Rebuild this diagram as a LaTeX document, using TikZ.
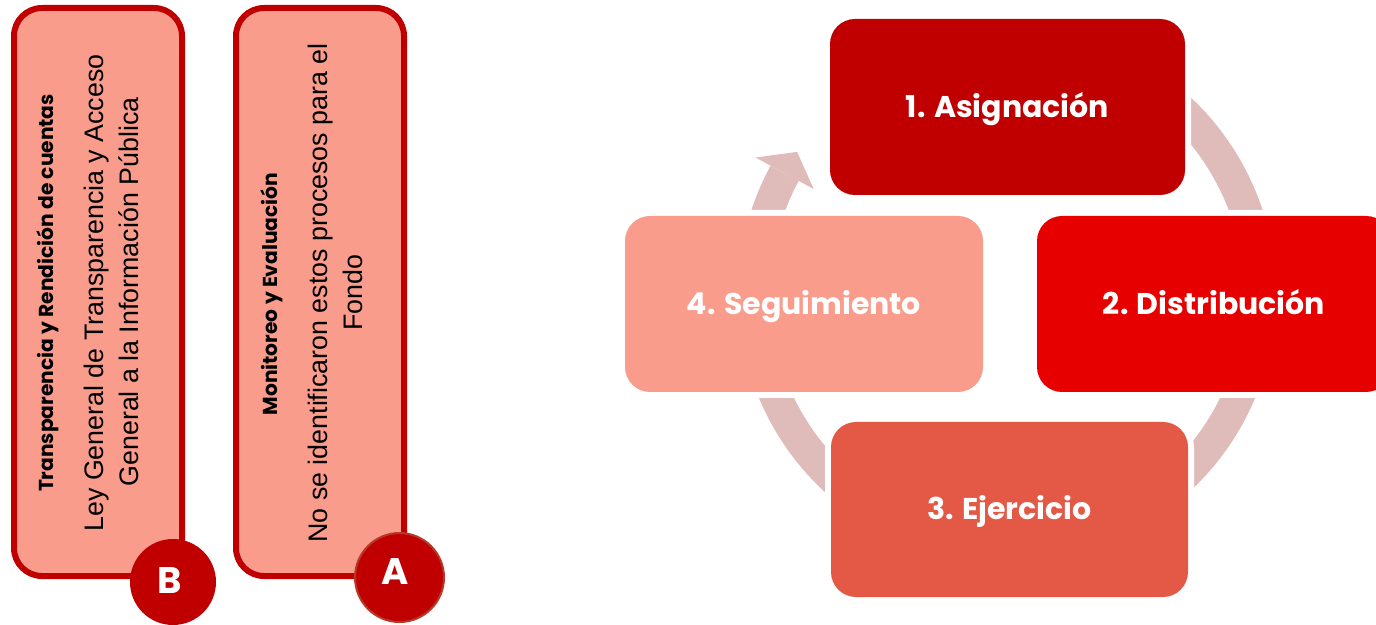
\documentclass[tikz,border=0pt]{standalone}
\usepackage{fontspec}
\setmainfont{Liberation Sans}
\newfontfamily\popfont{Poppins}
\definecolor{dred}{HTML}{C00000}
\definecolor{bred}{HTML}{E60000}
\definecolor{mred}{HTML}{E35946}
\definecolor{pinkf}{HTML}{F99C8C}
\definecolor{ringc}{HTML}{DFBBB9}
\definecolor{aedge}{HTML}{B8392A}
\begin{document}
\begin{tikzpicture}[x=1pt,y=1pt,
  cyc/.style={rectangle, rounded corners=25pt, inner sep=0pt, draw=none, text=white,
    font=\popfont\bfseries\fontsize{30}{35}\selectfont, text height=21pt, text depth=0pt,
    preaction={draw=white, line width=12pt}},
  panel/.style={rectangle, rounded corners=28pt, draw=dred, line width=6pt, fill=pinkf,
    inner sep=0pt, minimum width=168pt, minimum height=568pt},
  badge/.style={circle, fill=dred, inner sep=0pt},
  letter/.style={inner sep=0pt, text=white, font=\popfont\bfseries\fontsize{37}{40}\selectfont},
  head/.style={rotate=90, anchor=base, inner sep=0pt, font=\popfont\bfseries\fontsize{20.2}{24}\selectfont},
  body/.style={rotate=90, anchor=base, inner sep=0pt, font=\fontsize{26.8}{32}\selectfont},
  ring/.style={draw=ringc, line width=32pt}]
\useasboundingbox (0,0) rectangle (1376,624);
\clip (0,0) rectangle (1376,624);

% ---- left panels ----
\node[panel] (pb) at (98,332) {};
\node[panel] (pa) at (320,332) {};
\node[head] (hb) at (53,331) {Transparencia y Rendición de cuentas};
\node[body] (b1) at (103,331) {Ley General de Transparencia y Acceso};
\node[body] (b2) at (138,332) {General a la Información Pública};
\node[head] (ha) at (277,330) {Monitoreo y Evaluación};
\node[body] (a1) at (327,331) {No se identificaron estos procesos para el};
\node[body] (a2) at (362,331) {Fondo};
\node[badge, minimum size=86pt] (cb) at (173,42) {};
\node[badge, draw=aedge, line width=2pt, minimum size=89pt] (ca) at (399.5,46.5) {};
\node[letter] (lb) at (170,43) {B};
\node[letter] (la) at (395,52) {A};

% ---- cycle ----
\coordinate (c) at (1007,330);
\draw[ring] ([shift={(120:253)}]c) arc[start angle=120, end angle=-208.5, radius=253];
\fill[ringc] ([shift={(151.5:286)}]c) -- ([shift={(145.9:253.5)}]c) -- ([shift={(151.5:220)}]c) -- cycle;

\node[cyc, fill=dred, minimum width=355pt, minimum height=176pt] (n1) at (1007.5,517) {1. Asignación};
\node[cyc, fill=bred, minimum width=354pt, minimum height=176pt] (n2) at (1214,320) {2. Distribución};
\node[cyc, fill=mred, minimum width=357pt, minimum height=175pt] (n3) at (1009.5,114.5) {3. Ejercicio};
\node[cyc, fill=pinkf, minimum width=358pt, minimum height=176pt] (n4) at (804,320) {4. Seguimiento};
\end{tikzpicture}
\end{document}
